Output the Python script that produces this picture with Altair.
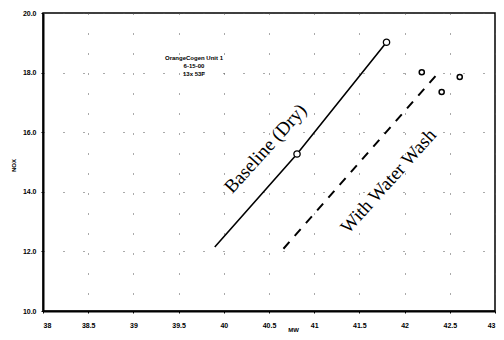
import altair as alt
import pandas as pd

# Baseline (Dry) curve
base_x = [39.90, 40.81, 41.80]
base_y = [12.15, 15.27, 19.02]
base_marker = [False, True, True]

# With Water Wash curve (dashed)
wash_x = [40.66, 42.39]
wash_y = [12.09, 18.05]

# Water wash test points
pts_x = [42.19, 42.41, 42.61]
pts_y = [18.01, 17.35, 17.85]

x_ticks = [38, 38.5, 39, 39.5, 40, 40.5, 41, 41.5, 42, 42.5, 43]
y_ticks = [10, 12, 14, 16, 18, 20]

note_lines = ["OrangeCogen Unit 1", "6-15-00", "13x 53F"]
note_x = [39.67, 39.67, 39.67]
note_y = [18.48, 18.22, 17.96]

labels = ["Baseline (Dry)", "With Water Wash"]
label_x = [40.46, 41.82]
label_y = [15.45, 14.36]

base_df = pd.DataFrame({"x": base_x, "y": base_y, "m": base_marker})
wash_df = pd.DataFrame({"x": wash_x, "y": wash_y})
pts_df = pd.DataFrame({"x": pts_x, "y": pts_y})
note_df = pd.DataFrame({"x": note_x, "y": note_y, "t": note_lines})
lab_df = pd.DataFrame({"x": label_x, "y": label_y, "t": labels})

xs = alt.Scale(domain=[38, 43], nice=False)
ys = alt.Scale(domain=[10, 20], nice=False)

x_axis = alt.Axis(values=x_ticks, format="~g", title="MW", labelFont="Liberation Sans",
                  labelFontSize=7, labelFontWeight="bold", labelColor="black",
                  tickSize=2, tickColor="black", labelPadding=8,
                  domainColor="black", domainWidth=2,
                  grid=True, gridDash=[1, 19], gridColor="#555", gridWidth=1,
                  titleFont="Liberation Sans", titleFontSize=6, titleFontWeight="bold",
                  titleX=250, titleY=18, titleBaseline="middle", titleColor="black")
y_axis = alt.Axis(values=y_ticks, format=".1f", title="NOX", labelFont="Liberation Sans",
                  labelFontSize=7, labelFontWeight="bold", labelColor="black",
                  tickSize=2, tickColor="black", labelPadding=5,
                  domainColor="black", domainWidth=2,
                  grid=True, gridDash=[1, 19], gridColor="#555", gridWidth=1,
                  titleFont="Liberation Sans", titleFontSize=6, titleFontWeight="bold",
                  titleX=-30, titleY=152, titleBaseline="middle", titleColor="black")

base_line = alt.Chart(base_df).mark_line(color="black", strokeWidth=1.6).encode(
    x=alt.X("x:Q", scale=xs, axis=x_axis),
    y=alt.Y("y:Q", scale=ys, axis=y_axis),
)
base_pts = alt.Chart(base_df[base_df["m"]]).mark_point(
    shape="circle", size=40, filled=True, fill="white", stroke="black", strokeWidth=1.3, opacity=1
).encode(x=alt.X("x:Q", scale=xs), y=alt.Y("y:Q", scale=ys))

wash_line = alt.Chart(wash_df).mark_line(color="black", strokeWidth=2, strokeDash=[9, 8]).encode(
    x=alt.X("x:Q", scale=xs), y=alt.Y("y:Q", scale=ys)
)
extra_pts = alt.Chart(pts_df).mark_point(
    shape="circle", size=26, filled=True, fill="white", stroke="black", strokeWidth=1.5, opacity=1
).encode(x=alt.X("x:Q", scale=xs), y=alt.Y("y:Q", scale=ys))

notes = alt.Chart(note_df).mark_text(
    font="Liberation Sans", fontSize=6, fontWeight="bold", color="black", align="center", baseline="middle"
).encode(x=alt.X("x:Q", scale=xs), y=alt.Y("y:Q", scale=ys), text="t:N")

curve_labels = alt.Chart(lab_df).mark_text(
    font="Liberation Serif", fontSize=19, color="black", align="center", baseline="middle", angle=312
).encode(x=alt.X("x:Q", scale=xs), y=alt.Y("y:Q", scale=ys), text="t:N")

chart = alt.layer(base_line, wash_line, base_pts, extra_pts, notes, curve_labels).properties(
    width=452, height=298,
    autosize=alt.AutoSizeParams(type="none"),
    padding={"left": 35, "top": 5, "right": 1, "bottom": 21},
    background="white",
).configure_view(stroke="black", strokeWidth=1.5)

chart.save("out.html", embed_options={"renderer": "svg", "actions": False})
